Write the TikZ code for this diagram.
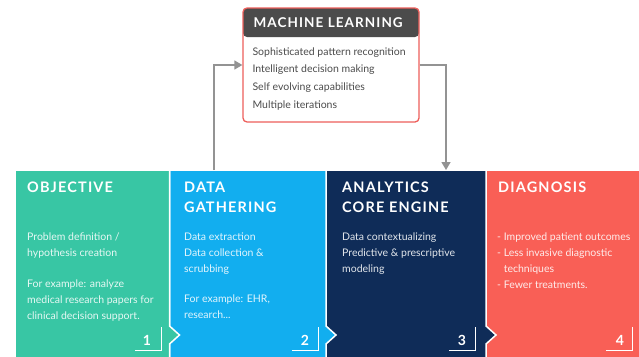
\documentclass[tikz,border=0pt]{standalone}
\usepackage{fontspec}
\setmainfont{Lato}
\newfontfamily\headfont[LetterSpace=8]{Lato}
\usetikzlibrary{arrows.meta}

\definecolor{objteal}{HTML}{38C6A4}
\definecolor{gatherblue}{HTML}{12AEEF}
\definecolor{enginenavy}{HTML}{0F2C58}
\definecolor{diagred}{HTML}{F95F56}
\definecolor{mlgray}{HTML}{4B4B4B}
\definecolor{mlborder}{HTML}{EE5F5B}
\definecolor{linkgray}{HTML}{939393}

\tikzset{
  stagetitle/.style={anchor=north west,inner sep=0pt,align=left,text=white,
    font=\headfont\bfseries\fontsize{14.5}{20}\selectfont},
  stagetext/.style={anchor=north west,inner sep=0pt,align=left,text=white!88!#1,
    font=\fontsize{10.5}{16}\selectfont},
  stagenum/.style={inner sep=0pt,text=white,font=\bfseries\fontsize{14}{14}\selectfont},
  link/.style={draw=linkgray,line width=1.4pt,-{Triangle[length=8pt,width=9pt]}}
}

\begin{document}
\begin{tikzpicture}[x=1pt,y=-1pt]
\clip (0,0) rectangle (639,356);
\fill[white] (0,0) rectangle (639,356);

% Stage panels, drawn right to left so each notch sits on the next panel
\foreach \xa/\xb/\col in {486/650/diagred, 326/486/enginenavy, 169.5/326/gatherblue, 15/169.5/objteal}
  \filldraw[fill=\col,draw=white,line width=1.5pt]
    (\xa,170) -- (\xb,170) -- (\xb,326) -- ++(10,9) -- (\xb,344) -- (\xb,365) -- (\xa,365) -- cycle;

% Anchor points on the panel tops
\coordinate (gather top) at (214,170);
\coordinate (engine top) at (446,170);

% Panel texts
\node[stagetitle] (obj title) at (27,182) {OBJECTIVE};
\node[stagetext=objteal] (obj text) at (27,232.5)
  {Problem definition /\\hypothesis creation\\[15pt]For example: analyze\\medical research papers for\\clinical decision support.};

\node[stagetitle] (gather title) at (184,182) {DATA\\GATHERING};
\node[stagetext=gatherblue] (gather text) at (184,233)
  {Data extraction\\Data collection \&\\scrubbing\\[14pt]For example: EHR,\\research...};

\node[stagetitle] (engine title) at (342,182) {ANALYTICS\\CORE ENGINE};
\node[stagetext=enginenavy] (engine text) at (342,233)
  {Data contextualizing\\Predictive \& prescriptive\\modeling};

\node[stagetitle] (diag title) at (498,182) {DIAGNOSIS};
\node[stagetext=diagred] (diag text) at (497,233)
  {- Improved patient outcomes\\- Less invasive diagnostic\\\phantom{- }techniques\\- Fewer treatments.};

% Step numbers with corner marks
\foreach \nx/\bx/\n in {147/161/1, 305/318/2, 462/475/3, 620/632/4} {
  \node[stagenum] (num \n) at (\nx,340) {\n};
  \draw[white,line width=0.8pt] (\bx-26,350) -- (\bx,350) -- (\bx,327);
}

% Machine learning box
\node[draw=mlborder,line width=1.3pt,fill=white,rounded corners=4pt,
  minimum width=176pt,minimum height=114pt,inner sep=0pt,
  path picture={\fill[mlgray] (path picture bounding box.north west)
    rectangle ([yshift=-29pt]path picture bounding box.north east);}]
  (ml) at (331,65) {};
\node[anchor=west,inner sep=0pt,text=white,font=\headfont\bfseries\fontsize{13.5}{16}\selectfont]
  (ml title) at ([xshift=11pt,yshift=-15pt]ml.north west) {MACHINE LEARNING};
\node[anchor=north west,inner sep=0pt,align=left,text=mlgray,font=\fontsize{10.5}{17.7}\selectfont]
  (ml text) at ([xshift=10pt,yshift=-40pt]ml.north west)
  {Sophisticated pattern recognition\\Intelligent decision making\\Self evolving capabilities\\Multiple iterations};

% Links to and from the learning loop
\draw[link] (gather top) |- (ml.west);
\draw[link] (ml.east) -| (engine top);
\end{tikzpicture}
\end{document}
